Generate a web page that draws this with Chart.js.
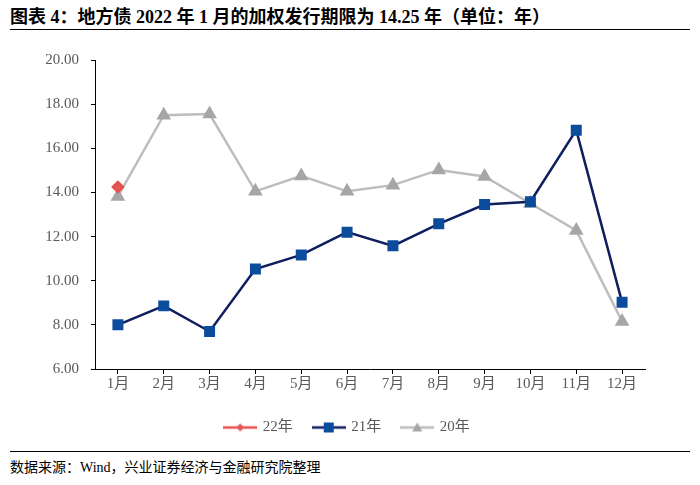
<!DOCTYPE html>
<html>
<head>
<meta charset="utf-8">
<script src="https://cdn.jsdelivr.net/npm/chart.js@4.4.0/dist/chart.umd.min.js"></script>
<style>
    body { margin: 0; background: #fff; width: 700px; height: 485px; overflow: hidden; }
    .titulo {
        position: absolute; left: 10px; top: 5px; width: 680px; height: 24px;
        border-bottom: 1px solid #000;
        font: bold 18px "Liberation Serif", "Noto Sans CJK SC", serif;
        color: #000; line-height: 24px;
    }
    .fonte {
        position: absolute; left: 10px; top: 451px; width: 680px;
        border-top: 1px solid #000;
        font: 14px "Liberation Serif", "Noto Sans CJK SC", serif;
        color: #000; padding-top: 4px;
    }
    #wrap { position: absolute; left: 0; top: 31px; width: 700px; height: 419px; }
</style>
</head>
<body>
<div class="titulo">图表 4：地方债 2022 年 1 月的加权发行期限为 14.25 年（单位：年）</div>
<div id="wrap"><canvas id="grafico"></canvas></div>
<div class="fonte">数据来源：Wind，兴业证券经济与金融研究院整理</div>
<script>
// Dados
const meses = ['1月', '2月', '3月', '4月', '5月', '6月', '7月', '8月', '9月', '10月', '11月', '12月'];
const serie22 = [14.25, null, null, null, null, null, null, null, null, null, null, null];
const serie21 = [8.0, 8.86, 7.7, 10.53, 11.17, 12.2, 11.58, 12.58, 13.45, 13.58, 16.82, 9.02];
const serie20 = [13.82, 17.5, 17.55, 14.05, 14.75, 14.05, 14.33, 15.02, 14.72, 13.5, 12.28, 8.15];
const yTicks = [6, 8, 10, 12, 14, 16, 18, 20];

// Ícone da legenda: linha + marcador
function legendIcon(lineColor, markColor, shape) {
    const c = document.createElement('canvas');
    c.width = 34; c.height = 12;
    const ctx = c.getContext('2d');
    ctx.strokeStyle = lineColor;
    ctx.lineWidth = 2.5;
    ctx.beginPath(); ctx.moveTo(0, 6); ctx.lineTo(34, 6); ctx.stroke();
    ctx.fillStyle = markColor;
    ctx.beginPath();
    if (shape === 'rect') {
        ctx.rect(12, 1, 10, 10);
    } else if (shape === 'triangle') {
        ctx.moveTo(17, 1); ctx.lineTo(22, 10); ctx.lineTo(12, 10); ctx.closePath();
    } else {
        ctx.moveTo(17, 2); ctx.lineTo(21, 6); ctx.lineTo(17, 10); ctx.lineTo(13, 6); ctx.closePath();
    }
    ctx.fill();
    return c;
}

const icones = [
    legendIcon('#E8504A', '#E05A5A', 'rectRot'),
    legendIcon('#0E1E5E', '#0B4C9C', 'rect'),
    legendIcon('#BDBDBD', '#A6A6A6', 'triangle')
];

const fonteNum = { family: '"Liberation Serif", "Noto Sans CJK SC", serif', size: 15 };

// Deslocar a legenda para ficar centrada como no original
const legendShift = {
    id: 'legendShift',
    afterLayout(chart) {
        chart.legend.left += 25;
        chart.legend.right += 25;
    }
};

new Chart(document.getElementById('grafico'), {
    type: 'line',
    data: {
        labels: meses,
        datasets: [{
            label: '22年',
            data: serie22,
            borderColor: '#E8504A',
            backgroundColor: '#E05A5A',
            pointStyle: 'rectRot',
            pointRadius: 5,
            borderWidth: 2.5
        }, {
            label: '21年',
            data: serie21,
            borderColor: '#0E1E5E',
            backgroundColor: '#0B4C9C',
            pointBorderColor: '#0B4C9C',
            pointStyle: 'rect',
            pointRadius: 6,
            borderWidth: 2.5
        }, {
            label: '20年',
            data: serie20,
            borderColor: '#BDBDBD',
            backgroundColor: '#A6A6A6',
            pointBorderColor: '#A6A6A6',
            pointStyle: 'triangle',
            pointRadius: 6,
            borderWidth: 2.5
        }]
    },
    plugins: [legendShift],
    options: {
        responsive: true,
        maintainAspectRatio: false,
        animation: false,
        layout: { padding: { top: 29, right: 55, bottom: 5, left: 0 } },
        plugins: {
            title: { display: false },
            tooltip: { enabled: false },
            legend: {
                position: 'bottom',
                labels: {
                    usePointStyle: true,
                    pointStyleWidth: 30,
                    boxHeight: 12,
                    padding: 21,
                    color: '#595959',
                    font: fonteNum,
                    generateLabels: (chart) => chart.data.datasets.map((ds, i) => ({
                        text: ds.label,
                        pointStyle: icones[i],
                        fillStyle: ds.backgroundColor,
                        strokeStyle: ds.borderColor,
                        lineWidth: 0,
                        fontColor: '#595959',
                        datasetIndex: i,
                        hidden: false
                    }))
                }
            }
        },
        scales: {
            x: {
                offset: true,
                afterFit: (axis) => { axis.height += 5; },
                grid: { display: true, drawOnChartArea: false, drawTicks: true, tickLength: 5, color: '#000' },
                border: { color: '#000', width: 1 },
                ticks: { color: '#595959', font: fonteNum, padding: 1, maxRotation: 0 }
            },
            y: {
                min: 6,
                max: 20,
                afterBuildTicks: (axis) => { axis.ticks = yTicks.map(v => ({ value: v })); },
                afterFit: (axis) => { axis.width = 95; },
                grid: { display: true, drawOnChartArea: false, drawTicks: true, tickLength: 4, color: '#000' },
                border: { color: '#000', width: 1 },
                ticks: {
                    color: '#595959',
                    font: fonteNum,
                    padding: 12,
                    callback: (v) => Number(v).toFixed(2)
                }
            }
        }
    }
});
</script>
</body>
</html>
